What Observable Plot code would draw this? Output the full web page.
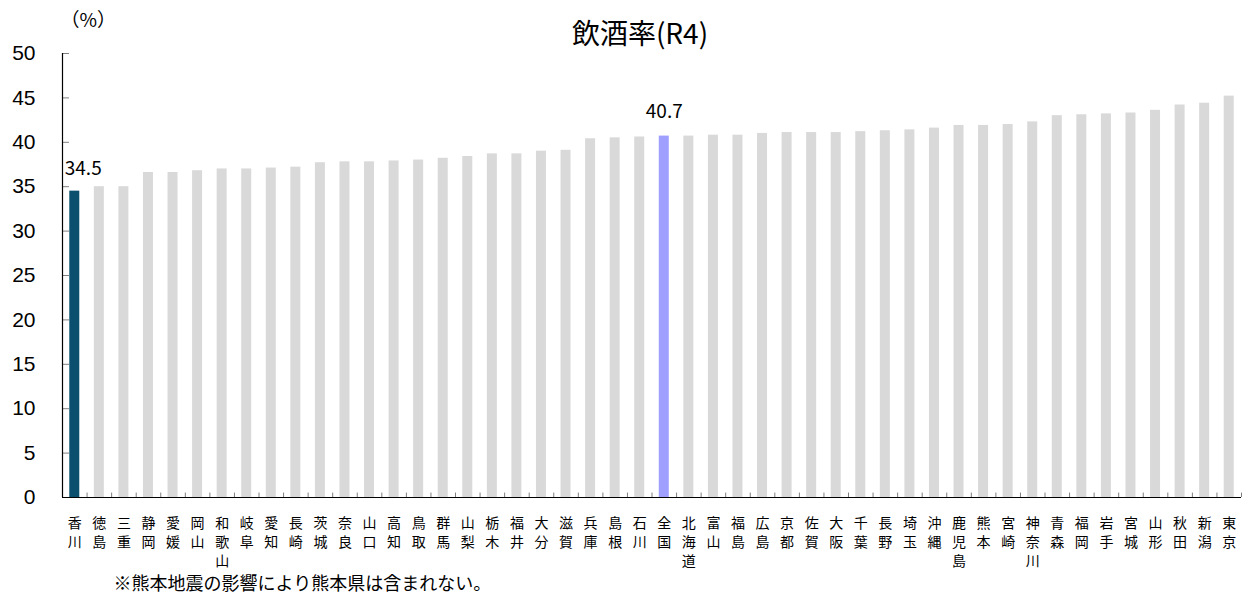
<!DOCTYPE html>
<html><head><meta charset="utf-8">
<script src="https://cdn.jsdelivr.net/npm/d3@7"></script>
<script src="https://cdn.jsdelivr.net/npm/@observablehq/plot@0.6"></script>
<style>
body{margin:0;background:#fff;}
</style>
</head><body>
<div id="chart"></div>
<script>
const prefectures = ["香川","徳島","三重","静岡","愛媛","岡山","和歌山","岐阜","愛知","長崎","茨城","奈良","山口","高知","鳥取","群馬","山梨","栃木","福井","大分","滋賀","兵庫","島根","石川","全国","北海道","富山","福島","広島","京都","佐賀","大阪","千葉","長野","埼玉","沖縄","鹿児島","熊本","宮崎","神奈川","青森","福岡","岩手","宮城","山形","秋田","新潟","東京"];
const rates = [34.5,35.0,35.0,36.6,36.6,36.8,37.0,37.0,37.1,37.2,37.7,37.8,37.8,37.9,38.0,38.2,38.4,38.7,38.7,39.0,39.1,40.4,40.5,40.6,40.7,40.7,40.8,40.8,41.0,41.1,41.1,41.1,41.2,41.3,41.4,41.6,41.9,41.9,42.0,42.3,43.0,43.1,43.2,43.3,43.6,44.2,44.4,45.2];
const highlightLow = "香川";
const highlightNational = "全国";
const yTicks = [0,5,10,15,20,25,30,35,40,45,50];
const title = "飲酒率(R4)";
const unitLabel = "（%）";
const footnote = "※熊本地震の影響により熊本県は含まれない。";

const data = prefectures.map((p,i)=>({pref:p, rate:rates[i]}));
const colorOf = p => p===highlightLow ? "#0a4f6e" : p===highlightNational ? "#9f9fff" : "#d9d9d9";

const W = 1248, H = 597, mL = 62, mR = 7, mT = 53, mB = 100;
const step = (W - mL - mR) / prefectures.length;
const inset = (step - 10) / 2;
const jp = "'Noto Sans CJK JP', 'Noto Sans', sans-serif";

const chart = Plot.plot({
  width: W, height: H,
  marginLeft: mL, marginRight: mR, marginTop: mT, marginBottom: mB,
  style: {fontFamily: jp, color: "#000", background: "#fff", overflow: "visible"},
  x: {domain: prefectures, padding: 0, round: false, axis: null, label: null},
  y: {domain: [0,50], axis: null, label: null},
  marks: [
    Plot.barY(data, {x:"pref", y:"rate", fill: d=>colorOf(d.pref), insetLeft: inset, insetRight: inset}),
    // y axis: line + inward ticks
    Plot.axisY({ticks: yTicks, tickSize: 7, dx: 7, tickFormat: () => "", label: null, stroke: "#808080", strokeWidth: 1}),
    Plot.ruleX([0], {x: () => prefectures[0], y1: 0, y2: 50, dx: -step/2, stroke: "#000", strokeWidth: 1.2}),
    Plot.axisY({ticks: yTicks, tickSize: 0, tickPadding: 27, label: null, fontSize: 21, fontFamily: "'Liberation Sans', Arial, sans-serif", fill: "#000"}),
    // x baseline and between-bar ticks
    Plot.ruleY([0], {stroke: "#000", strokeWidth: 1.2}),
    Plot.ruleX(prefectures.slice(1), {x: d=>d, y1: 0, y2: 0.5, dx: -step/2, stroke: "#808080"}),
    Plot.ruleX([prefectures[prefectures.length-1]], {x: d=>d, y1: 0, y2: 0.5, dx: step/2, stroke: "#808080"}),
    // x labels, vertical
    Plot.axisX({tickSize: 0, tickPadding: 17, label: null, fontSize: 14, lineHeight: 1.35, tickFormat: d => [...d].join("\n"), fill: "#000"}),
    // value labels
    Plot.text(data.filter(d=>d.pref===highlightLow), {x:"pref", y:"rate", text: d=>d.rate.toFixed(1), textAnchor: "start", dx: -10, dy: -22, fontSize: 19, fill: "#000"}),
    Plot.text(data.filter(d=>d.pref===highlightNational), {x:"pref", y:"rate", text: d=>d.rate.toFixed(1), dy: -24, fontSize: 19, fill: "#000"}),
    // title, unit, footnote
    Plot.text([title], {frameAnchor: "top", dx: -12, dy: -29, fontSize: 28, fill: "#000"}),
    Plot.text([unitLabel], {frameAnchor: "top-left", dx: -2, dy: -40, fontSize: 19, fill: "#000"}),
    Plot.text([footnote], {frameAnchor: "bottom-left", textAnchor: "start", dx: 51, dy: 92, fontSize: 18, fill: "#000"})
  ]
});
document.getElementById("chart").appendChild(chart);
</script>
</body></html>
